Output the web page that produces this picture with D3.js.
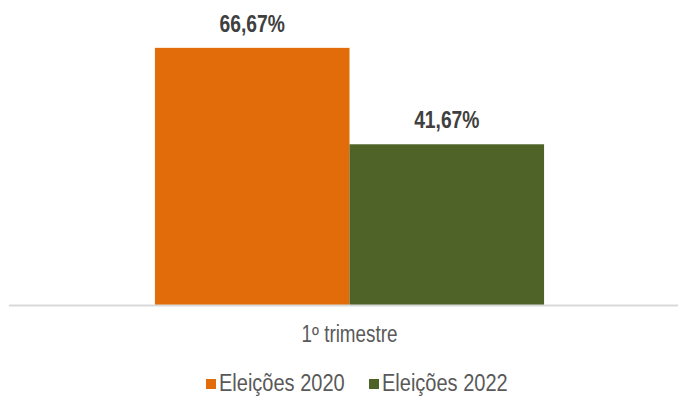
<!DOCTYPE html>
<html>
<head>
<meta charset="utf-8">
<script src="https://cdn.jsdelivr.net/npm/d3@7/dist/d3.min.js"></script>
<style>
  html, body { margin: 0; padding: 0; background: #ffffff; }
  svg { display: block; }
  text { font-family: "Liberation Sans Narrow", "Arial Narrow", "Liberation Sans", Arial, sans-serif; }
</style>
</head>
<body>
<svg id="chart" width="678" height="396"></svg>
<script>
// Quarter categories and the share recorded for each election year
const categories = ["1º trimestre"];
const seriesNames = ["Eleições 2020", "Eleições 2022"];
const values2020 = [66.67];
const values2022 = [41.67];
const seriesColors = ["#E36C0A", "#4F6228"];

const rows = categories.map((c, i) => ({
  category: c,
  values: [
    { series: seriesNames[0], value: values2020[i] },
    { series: seriesNames[1], value: values2022[i] }
  ]
}));

const svg = d3.select("#chart");
const baseline = 305;
// condensed look for text (narrow face emulated by a horizontal squeeze)
const squeeze = 0.82;
const legendSqueeze = 0.87;

const x0 = d3.scaleBand().domain(categories).range([9, 690]).paddingInner(0).paddingOuter(0.375);
const x1 = d3.scaleBand().domain(seriesNames).range([0, x0.bandwidth()]).padding(0);
const y = d3.scaleLinear().domain([0, 70]).range([baseline, 35]);
const color = d3.scaleOrdinal().domain(seriesNames).range(seriesColors);
const fmt = v => d3.format(".2f")(v).replace(".", ",") + "%";

const groups = svg.selectAll("g.cat").data(rows).join("g")
  .attr("class", "cat")
  .attr("transform", d => `translate(${x0(d.category)},0)`);

groups.selectAll("rect").data(d => d.values).join("rect")
  .attr("x", d => x1(d.series))
  .attr("y", d => y(d.value))
  .attr("width", x1.bandwidth())
  .attr("height", d => baseline - y(d.value))
  .attr("fill", d => color(d.series));

groups.selectAll("text.val").data(d => d.values).join("text")
  .attr("class", "val")
  .attr("transform", d => `translate(${x1(d.series) + x1.bandwidth() / 2},${y(d.value) - 16}) scale(${squeeze},1)`)
  .attr("text-anchor", "middle")
  .attr("font-size", 23.5)
  .attr("font-weight", "bold")
  .attr("fill", "#404040")
  .text(d => fmt(d.value));

// category axis line and label
const xAxis = d3.axisBottom(x0).tickSize(0).tickPadding(0);
const axisG = svg.append("g").attr("transform", `translate(0,${baseline})`).call(xAxis);
axisG.select(".domain").remove();
axisG.append("line").attr("x1", 9).attr("x2", 678).attr("y1", 0.5).attr("y2", 0.5)
  .attr("stroke", "#d9d9d9").attr("stroke-width", 2);
axisG.selectAll(".tick text")
  .attr("y", 0)
  .attr("dy", 0)
  .attr("transform", `translate(0,37) scale(${squeeze},1)`)
  .attr("font-size", 23)
  .attr("font-family", "\"Liberation Sans Narrow\", \"Arial Narrow\", \"Liberation Sans\", Arial, sans-serif")
  .attr("fill", "#595959");

// legend
const legend = svg.append("g");
const legendItems = [{ name: seriesNames[0], x: 206 }, { name: seriesNames[1], x: 369 }];
legendItems.forEach(it => {
  legend.append("rect").attr("x", it.x).attr("y", 379).attr("width", 10).attr("height", 10)
    .attr("fill", color(it.name));
  legend.append("text")
    .attr("transform", `translate(${it.x + 13},391) scale(${legendSqueeze},1)`)
    .attr("font-size", 23).attr("fill", "#595959").text(it.name);
});
</script>
</body>
</html>
